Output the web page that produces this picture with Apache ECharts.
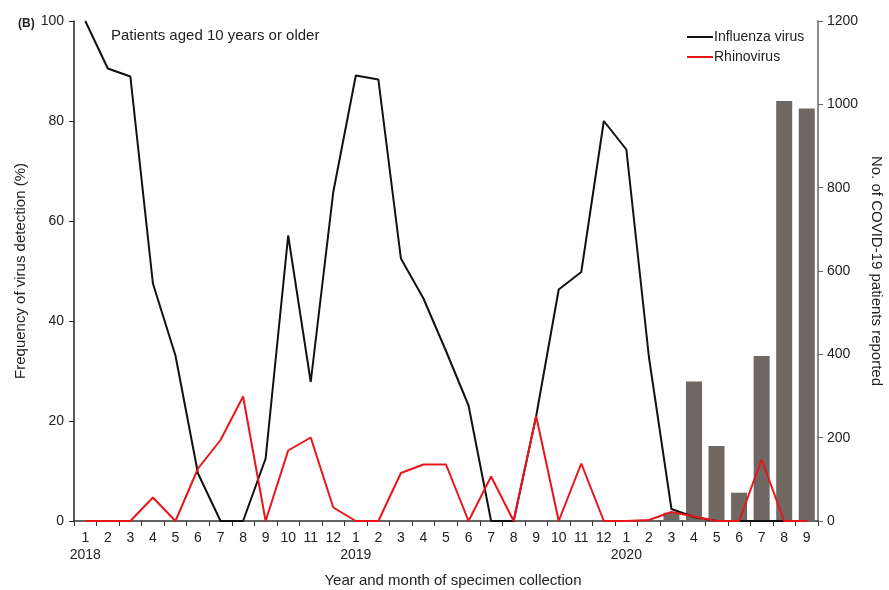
<!DOCTYPE html>
<html>
<head>
<meta charset="utf-8">
<script src="https://cdn.jsdelivr.net/npm/echarts@6/dist/echarts.min.js"></script>
<style>html,body{margin:0;padding:0;background:#fff}#c{width:889px;height:590px}</style>
</head>
<body>
<div id="c"></div>
<script>
var months = ['1','2','3','4','5','6','7','8','9','10','11','12',
              '1','2','3','4','5','6','7','8','9','10','11','12',
              '1','2','3','4','5','6','7','8','9'];
var years = ['2018','','','','','','','','','','','',
             '2019','','','','','','','','','','','',
             '2020','','','','','','','',''];
var influenza = [100, 90.5, 88.9, 47.5, 33.1, 9.5, 0, 0, 12.5, 57.1, 27.8, 65.8,
                 89.1, 88.3, 52.5, 44.5, 34, 23.1, 0, 0, 21, 46.3, 49.8, 80.0,
                 74.3, 32.8, 2.4, 0.8, 0, 0, 0, 0, 0];
var rhinovirus = [0, 0, 0, 4.7, 0, 10.5, 16.2, 24.9, 0, 14.1, 16.7, 2.7,
                  0, 0, 9.6, 11.3, 11.3, 0, 8.9, 0, 21, 0, 11.5, 0,
                  0, 0.2, 1.8, 0.9, 0, 0, 12.3, 0, 0];
var covid = [null, null, null, null, null, null, null, null, null, null, null, null,
             null, null, null, null, null, null, null, null, null, null, null, null,
             null, null, 20, 335, 180, 68, 396, 1008, 990];
var leftTicks = {min: 0, max: 100, interval: 20};
var rightTicks = {min: 0, max: 1200, interval: 200};

var cats = months.map(function (m, i) { return i + ':' + m; });
var font = 'Liberation Sans, Arial, sans-serif';
var txt = '#222';

var chart = echarts.init(document.getElementById('c'), null, {renderer: 'canvas'});
chart.setOption({
  animation: false,
  textStyle: {fontFamily: font},
  title: [
    {text: '(B)', left: 13, top: 13, textStyle: {fontSize: 12, fontWeight: 'bold', color: txt, fontFamily: font}},
    {text: 'Patients aged 10 years or older', left: 106, top: 23, textStyle: {fontSize: 15, fontWeight: 'normal', color: txt, fontFamily: font}}
  ],
  legend: {
    data: ['Influenza virus', 'Rhinovirus'],
    orient: 'vertical',
    left: 682,
    top: 25,
    icon: 'rect',
    itemWidth: 26,
    itemHeight: 2,
    itemGap: 6,
    textStyle: {fontSize: 14, color: txt, fontFamily: font, padding: [0, 0, 0, -4]}
  },
  grid: {left: 74, right: 71, top: 21, bottom: 69, containLabel: false, outerBoundsMode: 'none'},
  xAxis: {
    type: 'category',
    data: cats,
    boundaryGap: true,
    name: 'Year and month of specimen collection',
    nameLocation: 'middle',
    nameGap: 52,
    nameTextStyle: {fontSize: 15, color: txt, fontFamily: font, padding: [0, 0, 0, 14]},
    axisLine: {lineStyle: {color: '#333', width: 1.5}},
    axisTick: {show: true, interval: 0, length: 5, lineStyle: {color: '#333'}},
    axisLabel: {
      interval: 0,
      margin: 9,
      fontSize: 14,
      color: txt,
      fontFamily: font,
      lineHeight: 17,
      formatter: function (v, i) {
        return years[i] ? months[i] + '\n' + years[i] : months[i];
      }
    },
    splitLine: {show: false}
  },
  yAxis: [
    {
      type: 'value',
      min: leftTicks.min, max: leftTicks.max, interval: leftTicks.interval,
      name: 'Frequency of virus detection (%)',
      nameLocation: 'middle',
      nameGap: 46,
      nameTextStyle: {fontSize: 15, color: txt, fontFamily: font},
      axisLine: {show: true, lineStyle: {color: '#222', width: 1.5}},
      axisTick: {show: true, length: 5, lineStyle: {color: '#222'}},
      axisLabel: {margin: 10, fontSize: 14, color: txt, fontFamily: font},
      splitLine: {show: false}
    },
    {
      type: 'value',
      position: 'right',
      min: rightTicks.min, max: rightTicks.max, interval: rightTicks.interval,
      name: 'No. of COVID-19 patients reported',
      nameLocation: 'middle',
      nameGap: 51,
      nameRotate: -90,
      nameTextStyle: {fontSize: 15, color: txt, fontFamily: font},
      axisLine: {show: true, lineStyle: {color: '#666', width: 1.5}},
      axisTick: {show: true, length: 5, lineStyle: {color: '#666'}},
      axisLabel: {margin: 9, fontSize: 14, color: txt, fontFamily: font,
        formatter: function (v) { return String(v); }},
      splitLine: {show: false}
    }
  ],
  series: [
    {
      name: 'COVID-19',
      type: 'bar',
      yAxisIndex: 1,
      data: covid,
      barWidth: 16,
      itemStyle: {color: '#6f6762'},
      z: 1
    },
    {
      name: 'Influenza virus',
      type: 'line',
      yAxisIndex: 0,
      data: influenza,
      symbol: 'none',
      lineStyle: {color: '#111', width: 2},
      itemStyle: {color: '#111'},
      z: 3
    },
    {
      name: 'Rhinovirus',
      type: 'line',
      yAxisIndex: 0,
      data: rhinovirus,
      symbol: 'none',
      lineStyle: {color: '#e8161b', width: 2},
      itemStyle: {color: '#e8161b'},
      z: 4
    }
  ]
});
</script>
</body>
</html>
